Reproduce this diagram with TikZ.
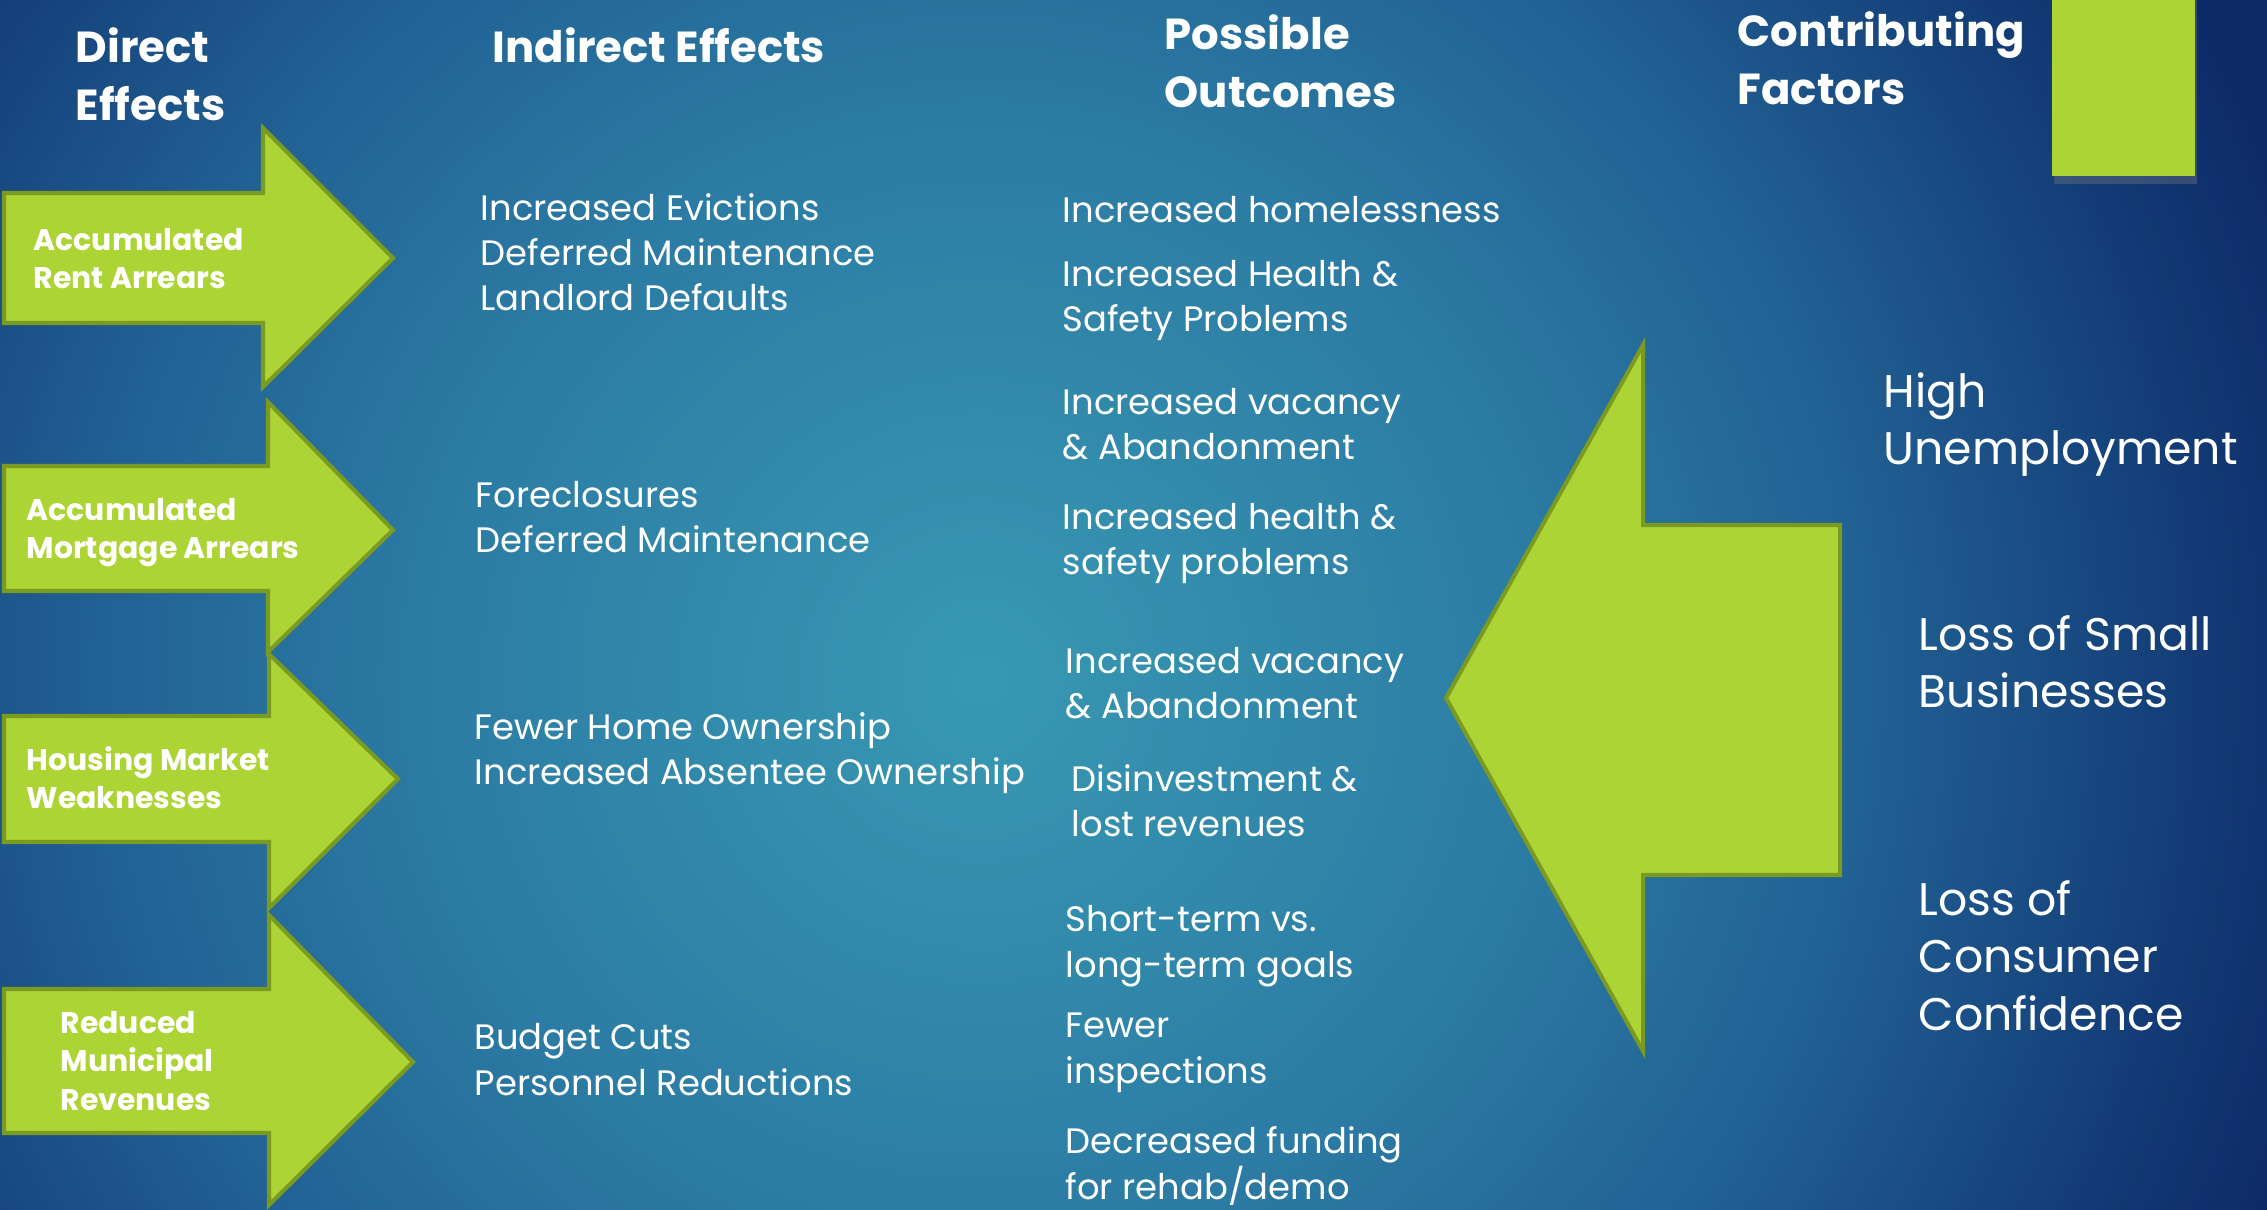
\documentclass[tikz,border=0pt]{standalone}
\usepackage{fontspec}
\setmainfont{Poppins}
\usetikzlibrary{shadows}

\definecolor{limefill}{HTML}{ACD434}
\definecolor{limeedge}{HTML}{7A9A21}
\pgfdeclareradialshading{slideglow}{\pgfpoint{0bp}{0bp}}{rgb(0bp)=(0.22,0.60,0.70); rgb(5.5bp)=(0.17,0.48,0.64); rgb(8.5bp)=(0.13,0.38,0.58); rgb(12bp)=(0.07,0.22,0.45); rgb(13.5bp)=(0.05,0.16,0.40); rgb(50bp)=(0.05,0.16,0.40)}

\begin{document}
\begin{tikzpicture}[x=0.01cm,y=-0.01cm]
    \pgfmathsetmacro{\width}{2267}
    \pgfmathsetmacro{\height}{1210}
    \tikzset{
        effectarrow/.style={fill=limefill,draw=limeedge,line width=1.15pt,line join=miter},
        heading/.style={anchor=base west,inner sep=0pt,align=left,text=white,font=\fontsize{12.35}{16.5}\selectfont\bfseries},
        arrowlabel/.style={anchor=base west,inner sep=0pt,align=left,text=white,font=\fontsize{8.5}{10.9}\selectfont\bfseries},
        effect/.style={anchor=base west,inner sep=0pt,align=left,text=white,font=\fontsize{10.05}{12.8}\selectfont},
        factor/.style={anchor=base west,inner sep=0pt,align=left,text=white,font=\fontsize{13}{16.3}\selectfont}
    }
    \useasboundingbox (0,0) rectangle (\width,\height);
    \clip (0,0) rectangle (\width,\height);
    \fill[shading=slideglow] (980,680) circle [radius=26cm];
    \fill[limefill,drop shadow={opacity=0.35,shadow xshift=0.6pt,shadow yshift=-2.2pt}] (2052,-10) rectangle (2195,176);

    \draw[effectarrow] (4,193) -- (263,193) -- (263,128) -- (393,258) -- (263,387) -- (263,323) -- (4,323) -- cycle;
    \draw[effectarrow] (4,466) -- (268,466) -- (268,402) -- (393,530) -- (268,652) -- (268,591) -- (4,591) -- cycle;
    \draw[effectarrow] (4,716) -- (269,716) -- (269,654) -- (398,779) -- (269,908) -- (269,842) -- (4,842) -- cycle;
    \draw[effectarrow] (4,989) -- (269,989) -- (269,915) -- (413,1062) -- (269,1205) -- (269,1133) -- (4,1133) -- cycle;
    \draw[effectarrow] (1840,525) -- (1643,525) -- (1643,345) -- (1446,698) -- (1643,1051) -- (1643,875) -- (1840,875) -- cycle;

    \node[heading] (direct) at (75,121) {Direct\\Effects};
    \node[heading] (indirect) at (492,63) {Indirect Effects};
    \node[heading] (outcomes) at (1164,108) {Possible\\Outcomes};
    \node[heading] (factors) at (1737,105) {Contributing\\Factors};

    \node[arrowlabel] (rent) at (33,289) {Accumulated\\Rent Arrears};
    \node[arrowlabel] (mortgage) at (26,559) {Accumulated\\Mortgage Arrears};
    \node[arrowlabel] (market) at (26,809) {Housing Market\\Weaknesses};
    \node[arrowlabel] (revenue) at (60,1110) {Reduced\\Municipal\\Revenues};

    \node[effect] (evictions) at (480,311) {Increased Evictions\\Deferred Maintenance\\Landlord Defaults};
    \node[effect] (foreclosures) at (475,553) {Foreclosures\\Deferred Maintenance};
    \node[effect] (ownership) at (474,785) {Fewer Home Ownership\\Increased Absentee Ownership};
    \node[effect] (budget) at (474,1095) {Budget Cuts\\Personnel Reductions};

    \node[effect] (homeless) at (1062,223) {Increased homelessness};
    \node[effect] (safetyA) at (1062,332) {Increased Health \&\\Safety Problems};
    \node[effect] (vacancyA) at (1062,460) {Increased vacancy\\\& Abandonment};
    \node[effect] (safetyB) at (1062,575) {Increased health \&\\safety problems};
    \node[effect] (vacancyB) at (1065,719) {Increased vacancy\\\& Abandonment};
    \node[effect] (disinvest) at (1071,837) {Disinvestment \&\\lost revenues};
    \node[effect] (goals) at (1065,977) {Short-term vs.\\long-term goals};
    \node[effect] (inspect) at (1065,1083) {Fewer\\inspections};
    \node[effect] (funding) at (1065,1199) {Decreased funding\\for rehab/demo};

    \node[factor] (jobs) at (1883,465) {High\\Unemployment};
    \node[factor] (shops) at (1918,708) {Loss of Small\\Businesses};
    \node[factor] (confidence) at (1918,1030) {Loss of\\Consumer\\Confidence};

\end{tikzpicture}
\end{document}
